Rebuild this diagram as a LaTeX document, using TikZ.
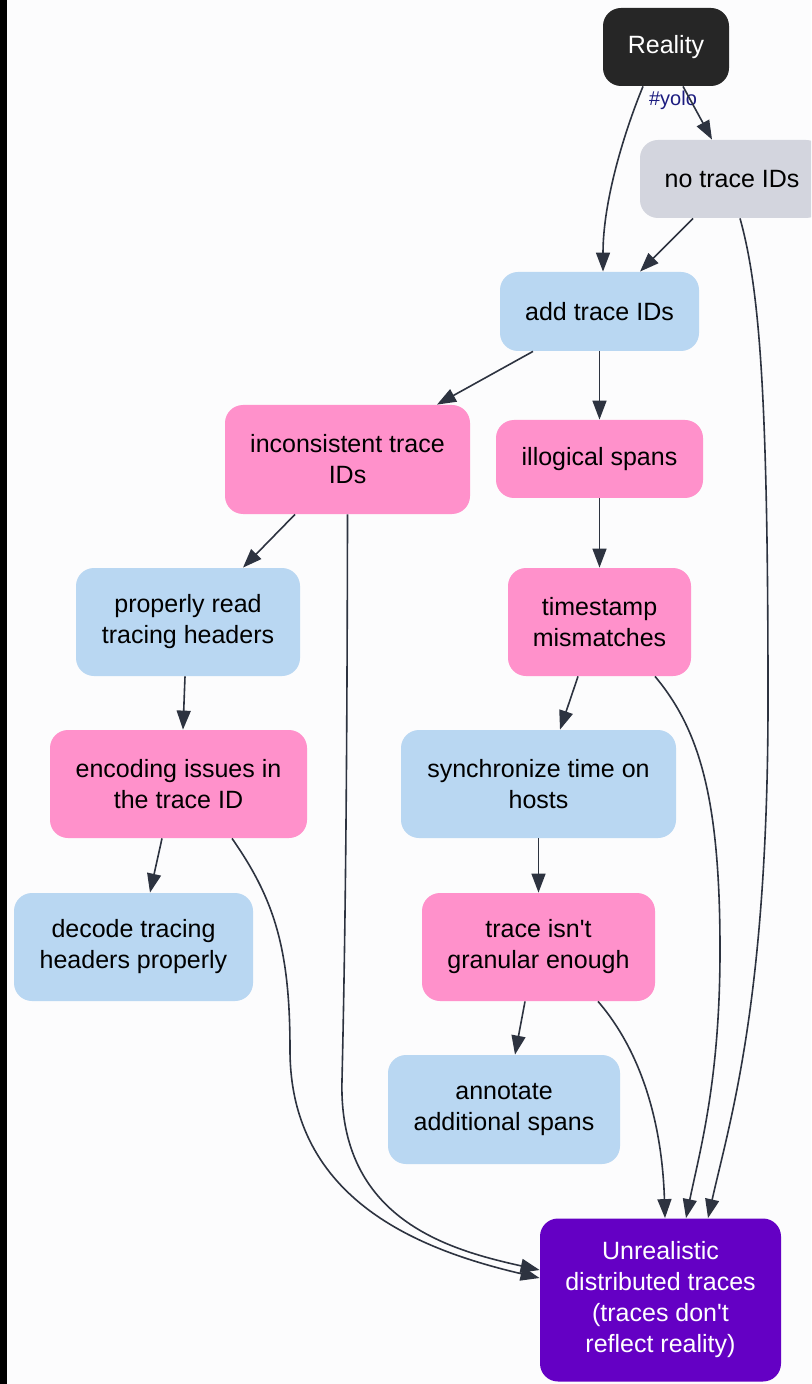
\documentclass[tikz,border=0pt]{standalone}
\usepackage{fontspec}
\setmainfont{Liberation Sans}
\usetikzlibrary{arrows.meta,calc}
\definecolor{bg}{HTML}{FCFCFD}
\definecolor{darkbox}{HTML}{262626}
\definecolor{greybox}{HTML}{D3D5DE}
\definecolor{bluebox}{HTML}{B9D7F2}
\definecolor{pinkbox}{HTML}{FF91CB}
\definecolor{purplebox}{HTML}{6400C4}
\definecolor{edgecol}{HTML}{2D3340}
\definecolor{labelcol}{HTML}{1C1C80}
\begin{document}
\begin{tikzpicture}[x=0.5pt,y=-0.5pt,
  box/.style={rounded corners=9pt,align=center,inner sep=0pt,
    font=\fontsize{12.5}{15.5}\selectfont},
  blue/.style={box,fill=bluebox,text=black},
  pink/.style={box,fill=pinkbox,text=black},
  edge/.style={draw=edgecol,line width=0.8pt,
    -{Triangle[length=9.5pt,width=7pt]}}]
\useasboundingbox (0,0) rectangle (811,1384);
\clip (0,0) rectangle (811,1384);
\fill[bg] (0,0) rectangle (811,1384);
\fill[black] (0,0) rectangle (7,1384);

% nodes
\node[box,fill=darkbox,text=white,minimum width=63pt,minimum height=39pt] (real) at (666,47) {Reality};
\node[box,fill=greybox,text=black,minimum width=92pt,minimum height=39pt] (notrace) at (732,179) {no trace IDs};
\node[blue,minimum width=99.5pt,minimum height=39.5pt] (add) at (599.5,311.5) {add trace IDs};
\node[pink,minimum width=122.5pt,minimum height=54.5pt] (incons) at (347.5,459.5) {inconsistent trace\\IDs};
\node[pink,minimum width=103.5pt,minimum height=39pt] (illog) at (599.5,459) {illogical spans};
\node[blue,minimum width=112pt,minimum height=54pt] (proper) at (188,622) {properly read\\tracing headers};
\node[pink,minimum width=91.5pt,minimum height=54pt] (timest) at (599.5,622) {timestamp\\mismatches};
\node[pink,minimum width=128.5pt,minimum height=54pt] (encod) at (178.5,784) {encoding issues in\\the trace ID};
\node[blue,minimum width=137.5pt,minimum height=54pt] (sync) at (538.5,784) {synchronize time on\\hosts};
\node[blue,minimum width=119.5pt,minimum height=54pt] (decode) at (133.5,947) {decode tracing\\headers properly};
\node[pink,minimum width=116.5pt,minimum height=54pt] (gran) at (538.5,947) {trace isn\textquotesingle t\\granular enough};
\node[blue,minimum width=116pt,minimum height=54.5pt] (annot) at (504,1109.5) {annotate\\additional spans};
\node[box,fill=purplebox,text=white,minimum width=120.5pt,minimum height=81.5pt] (unreal) at (660.5,1300) {Unrealistic\\distributed traces\\(traces don\textquotesingle t\\reflect reality)};

% edges
\draw[edge] ($(real.south)+(-23,0)$) .. controls (625,130) and (603,200) .. ($(add.north)+(3.5,0)$);
\node[text=labelcol,font=\fontsize{10}{12}\selectfont,inner sep=0pt] (yolo) at (673,100) {\#yolo};
\draw[edge] ($(real.south)+(17,0)$) -- ($(notrace.north)+(-20,0)$);
\draw[edge] ($(notrace.south)+(-39,0)$) -- ($(add.north)+(40.5,0)$);
\draw[edge] ($(notrace.south)+(8,0)$) .. controls (760,290) and (768,400) .. (768,700)
  .. controls (768,1000) and (730,1120) .. ($(unreal.north)+(47.5,0)$);
\draw[edge] ($(add.south)+(-66.5,0)$) -- ($(incons.north)+(89.5,0)$);
\draw[edge] (add.south) -- (illog.north);
\draw[edge] ($(incons.south)+(-52.5,0)$) -- ($(proper.north)+(55,0)$);
\draw[edge] (incons.south) .. controls (347,800) and (345,950) .. (342,1080)
  .. controls (338,1220) and (450,1250) .. ($(unreal.west)+(0,-30)$);
\draw[edge] (illog.south) -- (timest.north);
\draw[edge] ($(proper.south)+(-3,0)$) -- ($(encod.north)+(4.5,0)$);
\draw[edge] ($(timest.south)+(-21.5,0)$) -- ($(sync.north)+(21.5,0)$);
\draw[edge] ($(timest.south)+(55.5,0)$) .. controls (700,730) and (720,800) .. (720,950)
  .. controls (720,1080) and (700,1150) .. ($(unreal.north)+(25.5,0)$);
\draw[edge] ($(encod.south)+(-16.5,0)$) -- ($(decode.north)+(16.5,0)$);
\draw[edge] ($(encod.south)+(53.5,0)$) .. controls (275,900) and (290,950) .. (290,1050)
  .. controls (290,1200) and (420,1250) .. ($(unreal.west)+(0,-22)$);
\draw[edge] (sync.south) -- (gran.north);
\draw[edge] ($(gran.south)+(-13.5,0)$) -- ($(annot.north)+(11,0)$);
\draw[edge] ($(gran.south)+(59.5,0)$) .. controls (640,1050) and (662,1120) .. ($(unreal.north)+(4.5,0)$);
\end{tikzpicture}
\end{document}
